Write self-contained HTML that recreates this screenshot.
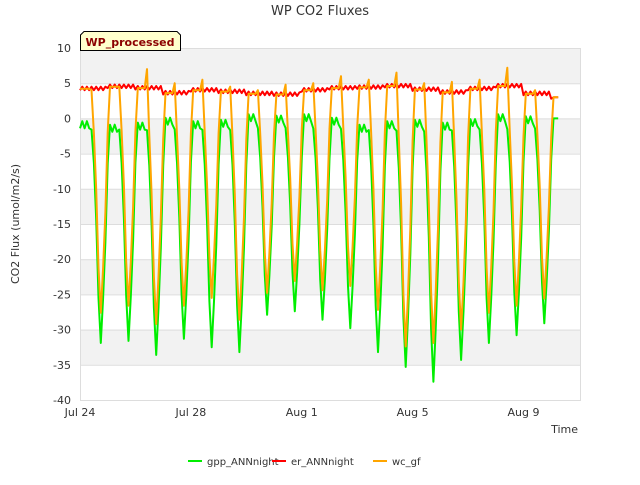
<!DOCTYPE html>
<html><head><meta charset="utf-8"><style>
body{margin:0;background:#fff;font-family:"Liberation Sans","DejaVu Sans",sans-serif;}
svg text{font-family:"DejaVu Sans","Liberation Sans",sans-serif;fill:#333;}
</style></head><body>
<svg id="chart" width="640" height="480" viewBox="0 0 640 480">
<text x="320" y="15" text-anchor="middle" font-size="13">WP CO2 Fluxes</text>
<g id="bands"></g><g id="grid"></g>
<rect x="80.5" y="48.5" width="500" height="352" fill="none" stroke="#ddd"/>
<g id="yticks"></g><g id="xticks"></g>
<g id="series"></g>
<path d="M80.5,50.5 V35 L84,31.5 H177 L180.5,35 V50.5 Z" fill="#ffffcc" stroke="#000"/>
<text x="130" y="46" text-anchor="middle" font-size="11" font-weight="bold" style="fill:#8b0000">WP_processed</text>
<text transform="translate(19,224) rotate(-90)" text-anchor="middle" font-size="11">CO2 Flux (umol/m2/s)</text>
<text x="578" y="433" text-anchor="end" font-size="11">Time</text>
<g>
<line x1="188" y1="461" x2="202" y2="461" stroke="#00ee00" stroke-width="2"/>
<text x="207" y="465" font-size="10">gpp_ANNnight</text>
<line x1="272" y1="461" x2="286" y2="461" stroke="#ff0000" stroke-width="2"/>
<text x="291" y="465" font-size="10">er_ANNnight</text>
<line x1="373" y1="461" x2="387" y2="461" stroke="#ffa500" stroke-width="2"/>
<text x="392" y="465" font-size="10">wc_gf</text>
</g>
</svg>
<script>
const gppMin=[-31.9,-31.6,-33.6,-31.3,-32.5,-33.2,-27.9,-27.4,-28.6,-29.8,-33.2,-35.3,-37.4,-34.3,-31.9,-30.8,-29.1];
const wcMin=[-27.6,-26.6,-29.2,-26.6,-25.5,-28.6,-24.8,-23.1,-24.4,-23.8,-27.2,-32.4,-31.9,-30.0,-27.6,-26.6,-25.6];
const erLevel=[4.2,4.5,4.3,3.6,4.0,3.8,3.5,3.4,4.0,4.3,4.4,4.6,4.1,3.7,4.2,4.6,3.5,3.0];
const wcPeak=[4.0,4.5,7.0,5.0,5.5,4.5,4.0,4.8,5.0,6.0,5.5,6.5,5.0,5.2,5.5,7.2,4.0,3.2];
const gppNight=[-1.0,-1.5,-1.2,-0.5,-1.0,-0.8,0,-0.2,0,-0.5,-1.5,-1.0,-0.8,-1.2,-0.7,0,-0.3,0];
const profile=[0.2,0,0,0,0,0.05,0.2,0.45,0.8,1,0.8,0.55];
const yTicks=[10,5,0,-5,-10,-15,-20,-25,-30,-35,-40];
const xTickLabels=["Jul 24","Jul 28","Aug 1","Aug 5","Aug 9"];
const xTickDays=[0,4,8,12,16];
const endDay=17.3;

const X=d=>80+d*27.72;
const Y=v=>48+(10-v)*7.04;
const NS="http://www.w3.org/2000/svg";
function mk(tag,attrs,parent){const e=document.createElementNS(NS,tag);for(const k in attrs)e.setAttribute(k,attrs[k]);parent.appendChild(e);return e;}
const bands=document.getElementById('bands'),grid=document.getElementById('grid');
for(let i=0;i<yTicks.length-1;i++){
  if(i%2===0){const r=mk('rect',{x:80,y:Y(yTicks[i]),width:500,height:Y(yTicks[i+1])-Y(yTicks[i]),fill:'#f2f2f2'},bands);
  
  }
}
const yt=document.getElementById('yticks');
yTicks.forEach(v=>{
  const l=mk('line',{x1:80,x2:580,y1:Y(v)+0.5,y2:Y(v)+0.5,stroke:'#dddddd'},grid);
  
  
  const t=mk('text',{x:71,y:Y(v)+4,'text-anchor':'end','font-size':11},yt);t.textContent=v;
  
  
});
const xt=document.getElementById('xticks');
xTickDays.forEach((d,i)=>{
  const t=mk('text',{x:X(d),y:416,'text-anchor':'middle','font-size':11},xt);t.textContent=xTickLabels[i];
  
  
});
const gpp=[],er=[],wc=[];
for(let d=0;d<gppMin.length+1;d++){
  for(let k=0;k<profile.length;k++){
    const t=d+k*2/24; if(t>endDay)break;
    const p=k===0&&d===0?0:profile[k];
    const di=Math.min(d,gppMin.length-1);
    const pm=k===0&&d>0?Math.min(d-1,gppMin.length-1):di;
    const nightG=gppNight[Math.min(d,gppNight.length-1)];
    const g=k===0&&d>0?gppMin[pm]*p:(p>0?gppMin[di]*p:nightG+(k%2?0.6:-0.4));
    const e=erLevel[Math.min(d,erLevel.length-1)];
    let w=k===0&&d>0?e*(1-p)+wcMin[pm]*p:e*(1-p)+(p>0?wcMin[di]*p:0);
    if(k===5)w=wcPeak[Math.min(d,wcPeak.length-1)];
    if(d>=gppMin.length&&k>0){gpp.push([t,0]);wc.push([t,e]);er.push([t,e]);continue;}
    gpp.push([t,g]);er.push([t,e+(k%2?0.3:-0.2)]);wc.push([t,w]);
  }
}
const sg=document.getElementById('series');
[[gpp,'#00ee00','gpp-line'],[er,'#ff0000','er-line'],[wc,'#ffa500','wc-line']].forEach(([s,c,n])=>{
  const p=mk('polyline',{points:s.map(q=>X(q[0]).toFixed(1)+','+Y(q[1]).toFixed(1)).join(' '),fill:'none',stroke:c,'stroke-width':2,'stroke-linejoin':'round'},sg);
  
  
});
</script>
</body></html>
